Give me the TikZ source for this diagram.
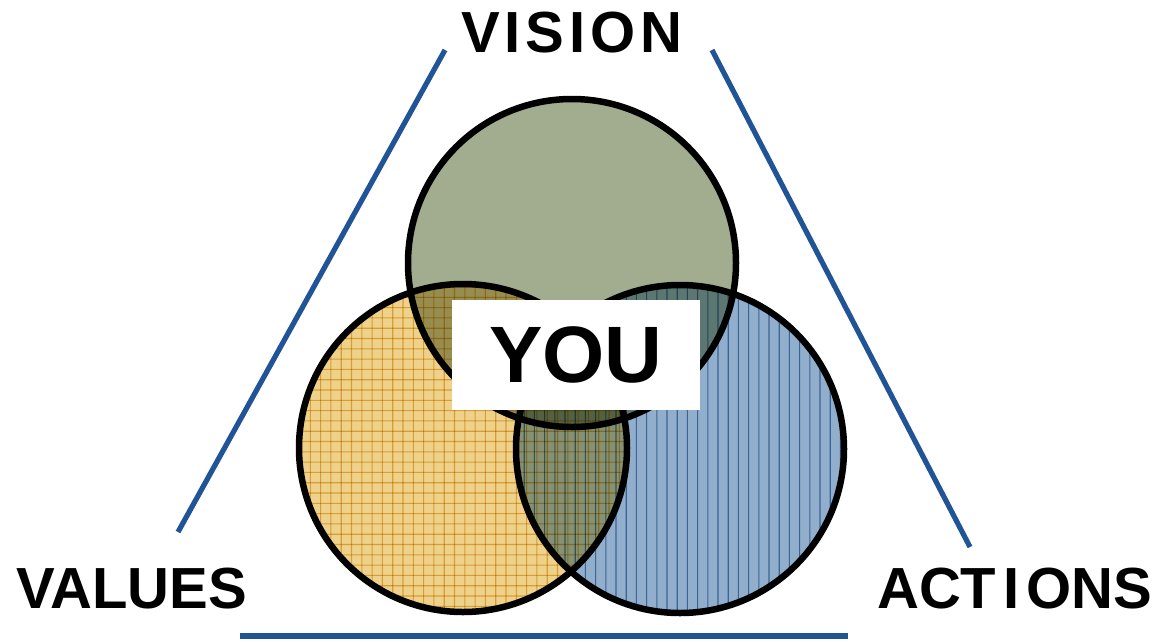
\documentclass[tikz,border=0pt]{standalone}
\usepackage{fontspec}
\setmainfont{Liberation Sans}
\definecolor{visgreen}{RGB}{162,172,143}
\definecolor{valyellow}{RGB}{238,210,140}
\definecolor{valgrid}{RGB}{232,192,95}
\definecolor{actblue}{RGB}{145,175,204}
\definecolor{actgrid}{RGB}{105,145,186}
\definecolor{sideblue}{RGB}{32,84,150}
\begin{document}
\begin{tikzpicture}[x=1pt,y=-1pt,
  venn/.style={circle, minimum size=328pt, inner sep=0pt, outer sep=0pt},
  ring/.style={draw=black, line width=6.5pt},
  side/.style={draw=sideblue, line width=5.2pt},
  biglabel/.style={font=\fontsize{58}{62}\selectfont\bfseries, inner sep=0pt, anchor=base},
  youbox/.style={fill=white, minimum width=248pt, minimum height=110pt, inner sep=0pt,
    font=\fontsize{80}{84}\selectfont\bfseries},
  gridline/.style={line width=1.1pt}]
\useasboundingbox (0,0) rectangle (1154,641);
\coordinate (cV) at (572,263);
\coordinate (cL) at (463,448);
\coordinate (cA) at (680,449);
% fills with multiply blending
\begin{scope}[blend group=multiply]
  \fill[visgreen] (cV) circle[radius=164];
  \fill[valyellow] (cL) circle[radius=164];
  \begin{scope}
    \clip (cL) circle[radius=164];
    \foreach \k in {0,...,32} {
      \draw[gridline, valgrid] (300+10.3*\k,280) -- (300+10.3*\k,616);
      \draw[gridline, valgrid] (296,287+10.3*\k) -- (632,287+10.3*\k);
    }
  \end{scope}
  \fill[actblue] (cA) circle[radius=164];
  \begin{scope}
    \clip (cA) circle[radius=164];
    \foreach \k in {0,...,33} {
      \draw[gridline, actgrid] (514+10.2*\k,284) -- (514+10.2*\k,616);
    }
  \end{scope}
\end{scope}
% outlines
\node[venn, ring] (vision) at (cV) {};
\node[venn, ring] (values) at (cL) {};
\node[venn, ring] (actions) at (cA) {};
% center box
\node[youbox] (you) at (576,355) {\raisebox{-2pt}{YOU}};
% labels
\node[biglabel] (lvision) at (572,52) {V\kern5pt I\kern5pt S\kern5pt I\kern5pt O\kern5pt N};
\node[biglabel, anchor=base west] (lvalues) at (16,608) {VALUES};
\node[biglabel, anchor=base west] (lactions) at (877,608) {ACT\kern7pt I\kern7pt ONS};
% triangle sides
\coordinate (s1a) at (445,50);
\coordinate (s1b) at (178,532);
\coordinate (s2a) at (712,50);
\coordinate (s2b) at (970,547);
\coordinate (s3a) at (240,636);
\coordinate (s3b) at (848,636);
\draw[side] (s1a) -- (s1b);
\draw[side] (s2a) -- (s2b);
\draw[side] (s3a) -- (s3b);
\end{tikzpicture}
\end{document}
